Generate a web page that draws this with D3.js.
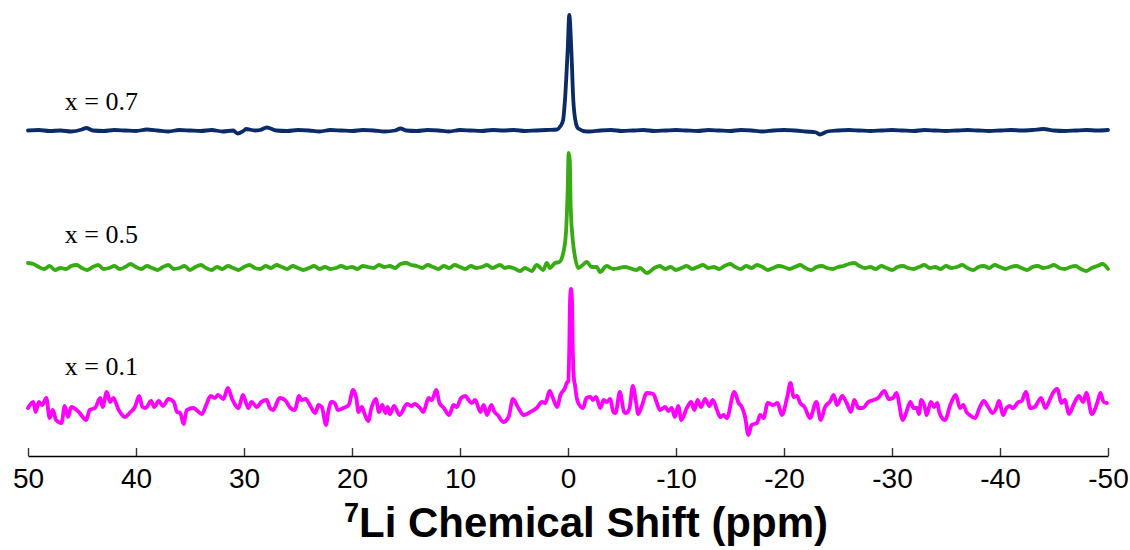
<!DOCTYPE html>
<html>
<head>
<meta charset="utf-8">
<script src="https://cdn.jsdelivr.net/npm/d3@7"></script>
<style>
	body { margin: 0; background: #fff; }
	svg { display: block; }
</style>
</head>
<body>
<div id="chart"></div>
<script>
// tick values of the ppm axis
const shiftTicks = [50, 40, 30, 20, 10, 0, -10, -20, -30, -40, -50]

const seriesNames = ["x = 0.7", "x = 0.5", "x = 0.1"]
// vertical stacking offset of each spectrum (a.u.)
const seriesOffsets = [272.5, 136, 0]
// where the name sits above its spectrum baseline (a.u.)
const labelLevels = [20.5, 24, 28]

// [ppm, intensity a.u.]
const specX07 = [
	[50,0],[49,0.5],[48,-0.5],[47,0],[46,-1],[45,1],[44.6,2.5],[44,0],[43,-0.5],[42,0.5],[41,0],[40,-0.5],
	[39,1],[38,0],[37,-1],[36,0.5],[35,0],[34,-0.5],[33,0.5],[32,-1],[31,0],[30.6,-3],[30,0],[29.8,1.5],
	[29,0],[28.5,0.5],[27.9,3],[27,0],[26,-0.5],[25,0.5],[24,0],[23,-1],[22,0.5],[21,0],[20,-0.5],[19,0.5],
	[18,0],[17,-1],[16,0],[15.5,2],[15,0],[14,-0.5],[13,0.5],[12,0],[11,-1],[10,0.5],[9,0],[8,-0.5],[7,0.5],
	[6,0],[5,0.5],[4,-0.5],[3,0],[2,0.5],[1,1],[0.74,3.8],[0.46,10],[0.28,30.5],[0.03,80.5],[-0.12,115.5],
	[-0.31,80.5],[-0.49,30.5],[-0.74,7],[-0.95,2],[-1.73,-1],[-2,-1],[-3,0],[-4,0.5],[-5,-0.5],[-6,0],
	[-7,0.5],[-8,-0.5],[-9,0],[-10,0.5],[-11,0],[-12,-0.5],[-13,0.5],[-14,0],[-15,-0.5],[-16,0.5],[-17,0],
	[-18,-1],[-19,0],[-20,0.5],[-21,0],[-22,-1],[-23,-2],[-23.3,-4],[-24,-1],[-25,0],[-26,0.5],[-27,0],
	[-28,-0.5],[-29,0],[-30,0.5],[-31,0],[-32,-0.5],[-33,0.5],[-34,0],[-35,-0.5],[-36,0],[-37,0.5],[-38,0],
	[-39,-0.5],[-40,0],[-41,0.5],[-42,0],[-43,0.5],[-44,1.5],[-45,0],[-46,-0.5],[-47,0],[-48,0.5],[-49,0],[-50,0.5]
]

const specX05 = [
	[50,4],[49.5,3],[49,0],[48.5,-2],[48,1],[47.5,-3],[47,-1],[46.5,-2],[46,1],[45.5,2],[45,-1],[44.5,-3],
	[44,0],[43.5,2],[43,-2],[42.5,-1],[42,1],[41.5,-2],[41,0],[40.5,3],[40,0],[39.5,-2],[39,1],[38.5,-1],
	[38,-3],[37.5,0],[37,2],[36.5,-2],[36,-1],[35.5,1],[35,-3],[34.5,0],[34,2],[33.5,-1],[33,-3],[32.5,0],
	[32,-2],[31.5,1],[31,-1],[30.5,-3],[30,0],[29.5,2],[29,-1],[28.5,-2],[28,1],[27.5,-1],[27,2],[26.5,0],
	[26,-2],[25.5,1],[25,-1],[24.5,-3],[24,-1],[23.5,1],[23,-2],[22.5,0],[22,-2],[21.5,-1],[21,1],[20.5,-1],
	[20,0],[19.5,-2],[19,1],[18.5,0],[18,-1],[17.5,2],[17,0],[16.5,1],[16,-1],[15.5,3],[15,4],[14.5,2],
	[14,1],[13.5,-1],[13,2],[12.5,0],[12,-2],[11.5,1],[11,-1],[10.5,2],[10,0],[9.5,-2],[9,1],[8.5,-1],[8,0],
	[7.5,2],[7,-1],[6.3,2],[5.83,-1],[5.53,0],[5.06,-1],[4.44,-4],[3.98,-1],[3.36,-4],[2.9,2],[2.29,-3],
	[1.97,4],[1.67,-1],[1.2,4],[0.81,5],[0.44,14],[0.19,34],[0.03,77],[-0.06,114],[-0.16,107],[-0.25,60],
	[-0.44,27],[-0.65,10],[-0.95,-1],[-1.36,2],[-1.73,5],[-2.19,0],[-2.66,0],[-2.96,-5],[-3.58,1],[-4.19,-2],
	[-5.28,0],[-6.36,-3],[-6.67,-1],[-7.29,-6],[-8,-1],[-8.5,1],[-9,-2],[-9.5,0],[-10,-3],[-10.5,-1],[-11,1],
	[-11.5,-2],[-12,0],[-12.5,2],[-13,-1],[-13.5,0],[-14,-2],[-14.5,1],[-15,3],[-15.5,0],[-16,-2],[-16.5,1],
	[-17,-1],[-17.5,2],[-18,0],[-18.5,-3],[-19,-1],[-19.5,1],[-20,0],[-20.5,-2],[-21,0],[-21.5,2],[-22,-1],
	[-22.5,-3],[-23,0],[-23.5,1],[-24,-1],[-24.5,-2],[-25,0],[-25.5,1],[-26,3],[-26.5,4],[-27,1],[-27.5,-1],
	[-28,0],[-28.5,-2],[-29,1],[-29.5,-1],[-30,-3],[-30.5,0],[-31,1],[-31.5,-1],[-32,-2],[-32.5,0],[-33,2],
	[-33.5,-1],[-34,0],[-34.5,-2],[-35,1],[-35.5,-1],[-36,0],[-36.5,2],[-37,-1],[-37.5,-3],[-38,0],[-38.5,1],
	[-39,-1],[-39.5,2],[-40,0],[-40.5,-2],[-41,0],[-41.5,1],[-42,-1],[-42.5,-3],[-43,0],[-43.5,1],[-44,-1],
	[-44.5,0],[-45,2],[-45.5,-1],[-46,-2],[-46.5,0],[-47,1],[-47.5,-2],[-48,-4],[-48.5,-1],[-49,1],[-49.5,3],[-50,-2]
]

const specX01 = [
	[50,-5],[49.5,1],[49.3,-9],[49,1],[48.7,-2],[48.3,5],[48,-15],[47.7,-7],[47.4,-17],[46.9,-20],[46.6,-3],
	[46.3,-14],[46,-4],[45.3,-9],[44.6,-17],[44.3,-7],[43.8,-5],[43.3,5],[43.1,-4],[42.7,11],[42.4,1],[42.1,5],
	[41.6,-7],[41,-14],[40.6,-10],[40.1,-4],[39.7,7],[39.4,-4],[39.1,-5],[38.6,2],[38.3,-4],[37.9,2],[37.5,-3],
	[37,4],[36.5,1],[36.2,-9],[35.9,-10],[35.6,-21],[35.3,-7],[34.7,-5],[33.9,-11],[33.5,-2],[33.1,7],[32.7,5],
	[32.4,8],[31.9,4],[31.5,15],[31.1,4],[30.5,-5],[30.1,8],[29.6,-5],[29.3,1],[28.8,-4],[28.4,1],[27.9,3],
	[27.6,-5],[27.3,-7],[26.7,5],[26.2,3],[25.7,-5],[25.3,-7],[24.9,7],[24.7,3],[24.3,4],[23.9,-2],[23.4,-10],
	[23.1,-2],[22.8,-4],[22.4,-22],[22.2,-9],[21.9,1],[21.6,0],[21.3,-7],[20.8,-5],[20.3,-2],[19.9,13],[19.6,5],
	[19.4,-9],[19.1,-4],[18.8,-12],[18.5,-18],[18.2,-5],[17.8,4],[17.5,-9],[17.2,-2],[16.9,-10],[16.7,-4],
	[16.5,-11],[16.1,-3],[15.6,-12],[14.9,-1],[14.5,-3],[14.2,-1],[13.7,-5],[13.4,-9],[12.9,5],[12.6,3],
	[12.2,13],[11.9,0],[11.5,-5],[11,-12],[10.6,-2],[10.3,-4],[9.9,5],[9.5,7],[9.2,3],[8.9,0],[8.6,3],[8.1,-9],
	[7.8,-2],[7.5,-12],[7.1,-2],[6.8,-9],[6.5,-12],[6,-19],[5.5,-14],[5.1,4],[4.6,-5],[4.1,-12],[3.5,-9],
	[2.9,-5],[2.4,1],[2.1,0],[1.7,12],[1.4,5],[1,-4],[0.7,8],[0.28,15],[0.12,20],[-0.03,22],[-0.12,56],
	[-0.19,103],[-0.28,114],[-0.37,103],[-0.44,56],[-0.56,23],[-0.65,18],[-0.74,10],[-0.95,0],[-1.4,-5],
	[-1.7,5],[-2.1,6],[-2.3,3],[-2.6,6],[-3,-5],[-3.3,3],[-3.6,1],[-3.9,4],[-4.2,-9],[-4.4,-10],[-4.8,11],
	[-5.2,-9],[-5.4,-10],[-5.7,-5],[-6,17],[-6.3,1],[-6.5,-11],[-6.8,-4],[-7.3,10],[-7.9,9],[-8.2,1],[-8.5,-7],
	[-9,-4],[-9.3,-8],[-9.6,-5],[-9.9,-14],[-10.2,-3],[-10.5,-17],[-11,-5],[-11.4,1],[-11.7,-7],[-12,3],
	[-12.3,-4],[-12.7,4],[-13.1,-3],[-13.4,3],[-13.8,-7],[-14.1,-14],[-14.4,-12],[-14.7,-15],[-15.4,11],
	[-15.8,0],[-16.1,-4],[-16.4,-14],[-16.7,-32],[-17,-22],[-17.5,-20],[-17.8,-12],[-18.1,-15],[-18.5,0],
	[-19,-2],[-19.4,0],[-19.8,-12],[-20.3,6],[-20.6,20],[-20.9,6],[-21.2,7],[-21.5,0],[-21.9,-4],[-22.4,-15],
	[-23,1],[-23.4,-17],[-23.8,-4],[-24.3,2],[-24.6,8],[-24.9,-2],[-25.4,7],[-25.8,0],[-26.2,-9],[-26.5,3],
	[-26.9,-5],[-27.3,-5],[-27.8,1],[-28.3,3],[-28.7,5],[-29.3,12],[-29.7,4],[-30.1,5],[-30.4,10],[-31,-17],
	[-31.3,-10],[-31.7,1],[-32,-5],[-32.3,-5],[-32.5,-11],[-32.7,3],[-33.1,-7],[-33.2,-12],[-33.6,1],[-33.9,-4],
	[-34.2,0],[-34.4,-10],[-34.9,-17],[-35.4,-2],[-35.9,8],[-36.3,-5],[-36.6,-2],[-36.9,-9],[-37.2,-12],
	[-37.7,-15],[-38.1,-5],[-38.5,2],[-38.9,-4],[-39.3,-10],[-39.7,-4],[-39.9,2],[-40.3,-12],[-40.6,-5],
	[-40.9,-3],[-41.2,-5],[-41.7,1],[-42,2],[-42.4,11],[-42.8,-5],[-43.2,-4],[-43.8,5],[-44.2,-5],[-44.6,3],
	[-44.9,10],[-45.3,14],[-45.7,0],[-46,3],[-46.4,-11],[-46.8,-2],[-47.3,7],[-47.7,1],[-48,10],[-48.5,-11],
	[-49,0],[-49.3,10],[-49.6,1],[-49.9,0]
]

const spectra = [specX07, specX05, specX01]
const colors = ["#0a2a68", "#36ab12", "#ff00ff"]

const params = {
	selector: "#chart",
	width: 1130,
	height: 550,
	left: 28,
	right: 1108,
	axisY: 456
}

const makeContainer = (params) => {
	return d3.select(params.selector)
		.append("svg")
		.attr("width", params.width)
		.attr("height", params.height)
}

const makeScales = (params) => {
	const xScale = d3.scaleLinear()
		.domain([50, -50])
		.range([params.left, params.right])
	// 1 a.u. per pixel, pink baseline at y = 403
	const yScale = d3.scaleLinear()
		.domain([0, 403])
		.range([403, 0])
	return [xScale, yScale]
}

const addAxis = (svg, xScale, params) => {
	const ax = svg.append("g")
		.attr("transform", `translate(0, ${params.axisY})`)
		.call(d3.axisBottom(xScale)
			.tickValues(shiftTicks)
			.tickFormat(d3.format("d"))
			.tickSizeInner(-8)
			.tickSizeOuter(0)
			.tickPadding(12))
	ax.select(".domain").attr("stroke", "#000").attr("stroke-width", 1.6)
	ax.selectAll(".tick line").attr("stroke", "#333").attr("stroke-width", 1.4)
	ax.selectAll(".tick text")
		.attr("fill", "#000")
		.style("font-family", "'Liberation Sans', Arial, sans-serif")
		.style("font-size", "28px")
		.text(d => d < 0 ? "-" + Math.abs(d) : d)

	const title = svg.append("text")
		.attr("x", (params.left + params.right) / 2 + 18)
		.attr("y", 537)
		.attr("text-anchor", "middle")
		.style("font-family", "'Liberation Sans', Arial, sans-serif")
		.style("font-weight", "bold")
		.style("font-size", "42px")
		.attr("fill", "#000")
	title.append("tspan")
		.style("font-size", "27px")
		.attr("dy", "-15")
		.text("7")
	title.append("tspan")
		.attr("dy", "15")
		.text("Li Chemical Shift (ppm)")
}

const drawSpectra = (svg, xScale, yScale) => {
	spectra.forEach((spec, i) => {
		const line = d3.line()
			.x(d => xScale(d[0]))
			.y(d => yScale(d[1] + seriesOffsets[i]))
			.curve(d3.curveMonotoneX)
		svg.append("path")
			.datum(spec)
			.attr("fill", "none")
			.attr("stroke", colors[i])
			.attr("stroke-width", 3.8)
			.attr("stroke-linejoin", "round")
			.attr("stroke-linecap", "round")
			.attr("d", line)

		svg.append("text")
			.attr("x", xScale(46.6))
			.attr("y", yScale(seriesOffsets[i] + labelLevels[i]))
			.style("font-family", "'Liberation Serif', 'Times New Roman', serif")
			.style("font-size", "26px")
			.attr("fill", "#000")
			.text(seriesNames[i])
	})
}

const main = (params) => {
	const svg = makeContainer(params)
	const [xScale, yScale] = makeScales(params)
	drawSpectra(svg, xScale, yScale)
	addAxis(svg, xScale, params)
}

main(params)
</script>
</body>
</html>
